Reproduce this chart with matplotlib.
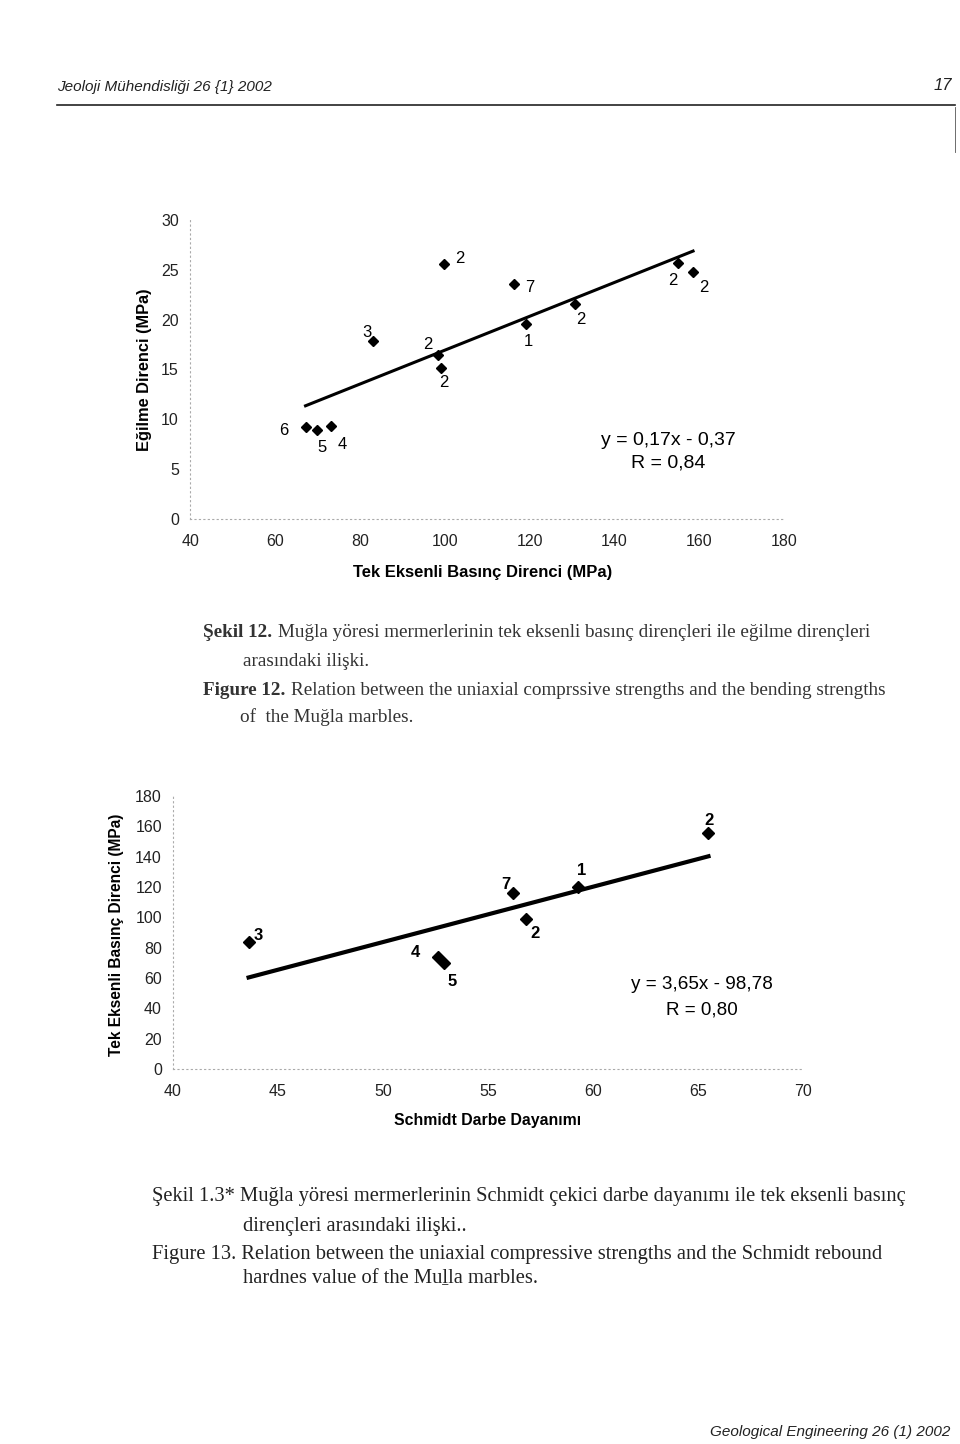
import matplotlib
matplotlib.use('Agg')
import matplotlib.pyplot as plt
import numpy as np

# Figure 12: uniaxial compressive strength vs bending strength
ucs_12 = [67.2, 69.8, 73.3, 83.2, 98.4, 99.1, 99.9, 116.2, 119.1, 130.7, 154.9, 158.5]
bend_12 = [9.2, 8.9, 9.3, 17.9, 16.4, 15.1, 25.6, 23.6, 19.6, 21.6, 25.7, 24.8]
names_12 = ['6', '5', '4', '3', '2', '2', '2', '7', '1', '2', '2', '2']
fit_12 = (0.17, -0.37)
xticks_12 = [40, 60, 80, 100, 120, 140, 160, 180]
yticks_12 = [0, 5, 10, 15, 20, 25, 30]

# Figure 13: Schmidt rebound vs uniaxial compressive strength
schmidt_13 = [43.6, 52.6, 52.9, 56.2, 56.8, 59.3, 65.5]
ucs_13 = [83.6, 73.8, 69.8, 116.3, 99.0, 119.8, 155.4]
names_13 = ['3', '4', '5', '7', '2', '1', '2']
fit_13 = (3.65, -98.78)
xticks_13 = [40, 45, 50, 55, 60, 65, 70]
yticks_13 = [0, 20, 40, 60, 80, 100, 120, 140, 160, 180]

# label offsets in pixels
off_12 = [(-22, -3), (5, -17), (11, -18), (-7, 8), (-10, 11), (3, -14),
          (15, 5), (16, -4), (3, -18), (6, -16), (-5, -18), (11, -16)]
off_13 = [(10, 7), (-22, 5), (8, -18), (-7, 8), (9, -15), (3, 17), (1, 13)]

sans = 'Liberation Sans'
serif = ['Liberation Serif', 'DejaVu Serif']

fig = plt.figure(figsize=(9.6, 14.44), dpi=100)
H = 1444.0
W = 960.0


def style_axes(ax, xt, yt):
    ax.set_xticks(xt)
    ax.set_yticks(yt)
    ax.set_xlim(xt[0], xt[-1])
    ax.set_ylim(yt[0], yt[-1])
    for s in ['top', 'right']:
        ax.spines[s].set_visible(False)
    for s in ['left', 'bottom']:
        ax.spines[s].set_linestyle((0, (1, 3)))
        ax.spines[s].set_color('#aaaaaa')
        ax.spines[s].set_linewidth(0.8)
    ax.tick_params(length=0, labelsize=11.5, colors='#222222', pad=11)
    ax.tick_params(axis='y', pad=8)
    for lab in ax.get_xticklabels() + ax.get_yticklabels():
        lab.set_family(sans)


# ---- top chart
ax1 = fig.add_axes([0.198, 0.6406, 0.619, 0.2071])
style_axes(ax1, xticks_12, yticks_12)
xl = np.array([min(ucs_12), max(ucs_12)])
ax1.plot(xl, fit_12[0] * xl + fit_12[1] + 0.3, color='black', lw=2.2)
ax1.plot(ucs_12, bend_12, 'D', color='black', ms=5.5, ls='none')
for x, y, n, o in zip(ucs_12, bend_12, names_12, off_12):
    ax1.annotate(n, (x, y), xytext=o, textcoords='offset pixels', ha='center', va='center',
                 fontsize=12, family=sans)
ax1.text(0.805, 0.264, 'y = 0,17x - 0,37', transform=ax1.transAxes, ha='center', va='center',
         fontsize=14, family=sans)
ax1.text(0.805, 0.187, 'R = 0,84', transform=ax1.transAxes, ha='center', va='center',
         fontsize=14, family=sans)
ax1.text(-0.076, 0.5, 'Eğilme Direnci (MPa)', transform=ax1.transAxes, rotation=90,
         ha='center', va='center', fontsize=11.8, fontweight='bold', family=sans)
ax1.text(0.493, -0.18, 'Tek Eksenli Basınç Direnci (MPa)', transform=ax1.transAxes,
         ha='center', va='center', fontsize=12, fontweight='bold', family=sans)

# ---- bottom chart
ax2 = fig.add_axes([0.1802, 0.2597, 0.65625, 0.189])
style_axes(ax2, xticks_13, yticks_13)
xl = np.array([min(schmidt_13), max(schmidt_13)])
ax2.plot(xl, fit_13[0] * xl + fit_13[1], color='black', lw=3)
ax2.plot(schmidt_13, ucs_13, 'D', color='black', ms=6, ls='none')
for x, y, n, o in zip(schmidt_13, ucs_13, names_13, off_13):
    ax2.annotate(n, (x, y), xytext=o, textcoords='offset pixels', ha='center', va='center',
                 fontsize=12, fontweight='bold', family=sans)
ax2.text(0.84, 0.308, 'y = 3,65x - 98,78', transform=ax2.transAxes, ha='center', va='center',
         fontsize=13.6, family=sans)
ax2.text(0.84, 0.216, 'R = 0,80', transform=ax2.transAxes, ha='center', va='center',
         fontsize=13.6, family=sans)
ax2.text(-0.089, 0.49, 'Tek Eksenli Basınç Direnci (MPa)', transform=ax2.transAxes, rotation=90,
         ha='center', va='center', fontsize=11.2, fontweight='bold', family=sans)
ax2.text(0.5, -0.19, 'Schmidt Darbe Dayanımı', transform=ax2.transAxes,
         ha='center', va='center', fontsize=11.4, fontweight='bold', family=sans)

# ---- page header / footer
fig.text(57 / W, 1 - 87 / H, 'Jeoloji Mühendisliği 26 {1} 2002', style='italic', fontsize=11,
         family=sans, va='center', color='#222222')
fig.text(952 / W, 1 - 85 / H, '17', style='italic', fontsize=12, family=sans, ha='right',
         va='center', color='#222222')
fig.add_artist(plt.Line2D([57 / W, 955 / W], [1 - 105 / H, 1 - 105 / H], color='#222222', lw=1.2))
fig.add_artist(plt.Line2D([955 / W, 955 / W], [1 - 107 / H, 1 - 152 / H], color='#555555', lw=0.6))
fig.text(950 / W, 1 - 1432 / H, 'Geological Engineering 26 (1) 2002', style='italic', fontsize=11,
         family=sans, ha='right', va='center', color='#222222')

# ---- captions
renderer = fig.canvas.get_renderer()


def caption(x, y, bold, rest, size, color):
    t = fig.text(x / W, 1 - y / H, bold, fontweight='bold', fontsize=size, family=serif,
                 va='center', color=color)
    x1 = t.get_window_extent(renderer).x1
    fig.text(x1 / W + 0.006, 1 - y / H, rest, fontsize=size, family=serif, va='center', color=color)


cap = '#333333'
caption(203, 632, 'Şekil 12.',
        'Muğla yöresi mermerlerinin tek eksenli basınç dirençleri ile eğilme dirençleri', 13.8, cap)
fig.text(243 / W, 1 - 661 / H, 'arasındaki ilişki.', fontsize=13.8, family=serif, va='center', color=cap)
caption(203, 691, 'Figure 12.',
        'Relation between the uniaxial comprssive strengths and the bending strengths', 13.8, cap)
fig.text(240 / W, 1 - 717 / H, 'of  the Muğla marbles.', fontsize=13.8, family=serif, va='center', color=cap)

cap2 = '#222222'
fig.text(152 / W, 1 - 1197 / H,
         'Şekil 1.3* Muğla yöresi mermerlerinin Schmidt çekici darbe dayanımı ile tek eksenli basınç',
         fontsize=14.8, family=serif, va='center', color=cap2)
fig.text(243 / W, 1 - 1226 / H, 'dirençleri arasındaki ilişki..', fontsize=14.8, family=serif,
         va='center', color=cap2)
fig.text(152 / W, 1 - 1254 / H,
         'Figure 13. Relation between the uniaxial compressive strengths and the Schmidt rebound',
         fontsize=14.8, family=serif, va='center', color=cap2)
fig.text(243 / W, 1 - 1279 / H, 'hardnes value of the Muḻla marbles.', fontsize=14.8, family=serif,
         va='center', color=cap2)

fig.savefig('out.png', dpi=100)
